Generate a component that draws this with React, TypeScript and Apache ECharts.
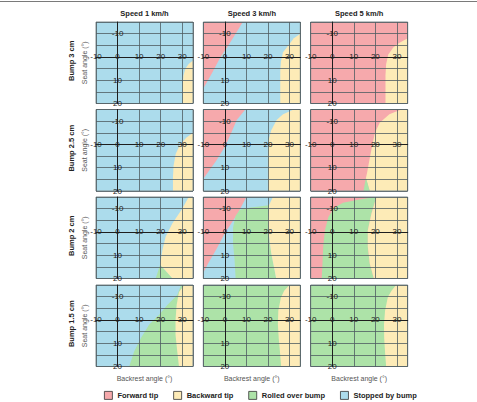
import React, { useEffect, useRef } from "react";
import * as echarts from "echarts";

// ---- Labels ----
const speeds = ["Speed 1 km/h", "Speed 3 km/h", "Speed 5 km/h"];
const bumps = ["Bump 3 cm", "Bump 2.5 cm", "Bump 2 cm", "Bump 1.5 cm"];
const classes = ["Forward tip", "Backward tip", "Rolled over bump", "Stopped by bump"];
const xTickLabels = [-10, 0, 10, 20, 30];
const yTickLabels = [-10, 10, 20];
const xName = "Backrest angle (°)";
const yName = "Seat angle (°)";
const xRange = [-10, 35];
const yRange = [-15, 20];

// ---- Region boundaries (backrest angle, seat angle) ----
const fullPanel = [[-10, -15], [35, -15], [35, 20], [-10, 20]];

const r1c1Backward = [[35, 1.5], [33, 3], [31.5, 5], [30.6, 8], [30.2, 12], [30.2, 20], [35, 20]];
const r1c2Forward = [[-10, -15], [8.3, -15], [5, -10], [1, -4], [-2, 0], [-6, 7], [-10, 13.6]];
const r1c2Backward = [[35, -10], [32, -8], [29.5, -5], [27, -2], [26, 2], [25.7, 6], [25.7, 20], [35, 20]];
const r1c3Backward = [[35, -8], [31, -6], [28.3, -4], [26, -1], [25, 3], [24.7, 8], [24.7, 20], [35, 20]];

const r2c1Backward = [[35, -5], [32, -3], [29, 0], [27, 4], [26, 9], [25.7, 14], [25.7, 20], [35, 20]];
const r2c2Forward = [[-10, -15], [9.5, -15], [5.5, -10.5], [3, -5], [0, 1], [-4, 7], [-10, 14.7]];
const r2c2Backward = [[32, -15], [35, -15], [35, 20], [20, 20], [20, 2], [20.3, -2], [21.5, -6], [24, -10.5], [27, -13]];
const r2c3Backward = [[32, -15], [35, -15], [35, 20], [17.4, 20], [15.6, 14.5], [16.2, 12], [17.3, 6.4], [18.5, 0.7], [19.8, -5], [22, -9.3], [26.5, -13]];
const r2c3Rolled = [[15.6, 14.3], [17.4, 20], [14.5, 20]];

const r3c1Backward = [[33, -15], [35, -15], [35, 20], [25.4, 20], [22, 16.5], [19.7, 14.2], [20.8, 7.9], [22.3, 2.1], [25.4, -3.6], [30, -10]];
const r3c1Rolled = [[19.7, 14.2], [22, 16.5], [25.4, 20], [17.7, 20]];
const r3c2Forward = [[-10, -15], [10, -15], [6, -8], [2.5, -3], [0, 0.5], [-4, 7.5], [-7.7, 13.5], [-10, 17.5]];
const r3c2Rolled = [[7, -9.5], [12, -10.5], [20.5, -11.5], [20, -5], [20.5, 2], [21.5, 9], [23, 16], [23.8, 20], [5, 20], [4.5, 12], [3.8, 5], [3.8, -2], [5, -7]];
const r3c2Backward = [[22.3, -15], [35, -15], [35, 20], [23.8, 20], [23, 16], [21.5, 9], [20.5, 2], [20, -5], [20.5, -11.5], [21.5, -13.5]];
const r3c3Rolled = [[19.5, -15], [12, -13.8], [5, -12.5], [1, -10.5], [-1.8, -6.4], [-3.4, -0.7], [-4.2, 6.4], [-4.6, 15], [-4.9, 20], [19.3, 20], [17.4, 13.6], [16.5, 6.4], [16.5, -0.7], [18.2, -7.9], [20.5, -15]];
const r3c3Backward = [[20.5, -15], [35, -15], [35, 20], [19.3, 20], [17.4, 13.6], [16.5, 6.4], [16.5, -0.7], [18.2, -7.9]];

const r4c1Rolled = [[29.5, -15], [35, -15], [35, 20], [5.4, 20], [7.7, 13.6], [10.8, 7.9], [14.6, 2.1], [19.2, -2.1], [23.1, -6.4], [27.7, -10.7]];
const r4c1Backward = [[31, -15], [35, -15], [35, 20], [28.5, 20], [27.7, 13.6], [26.9, 6.4], [26.9, 0], [27.4, -6.4], [28.5, -12]];
const r4c2Backward = [[30, -15], [35, -15], [35, 20], [26.1, 20], [25.6, 14], [25, 8], [24.6, 2], [24.8, -4], [26, -9.5], [27.5, -12.5]];
const r4c3Backward = [[29.6, -15], [35, -15], [35, 20], [25, 20], [24.5, 14], [24.1, 8], [24, 2], [24.5, -4], [25.8, -9.9], [27.5, -12.5]];

const panels: [string, number[][]][][] = [
  [["Stopped by bump", fullPanel], ["Backward tip", r1c1Backward]],
  [["Stopped by bump", fullPanel], ["Forward tip", r1c2Forward], ["Backward tip", r1c2Backward]],
  [["Forward tip", fullPanel], ["Backward tip", r1c3Backward]],
  [["Stopped by bump", fullPanel], ["Backward tip", r2c1Backward]],
  [["Stopped by bump", fullPanel], ["Forward tip", r2c2Forward], ["Backward tip", r2c2Backward]],
  [["Forward tip", fullPanel], ["Backward tip", r2c3Backward], ["Rolled over bump", r2c3Rolled]],
  [["Stopped by bump", fullPanel], ["Backward tip", r3c1Backward], ["Rolled over bump", r3c1Rolled]],
  [["Stopped by bump", fullPanel], ["Forward tip", r3c2Forward], ["Rolled over bump", r3c2Rolled], ["Backward tip", r3c2Backward]],
  [["Forward tip", fullPanel], ["Rolled over bump", r3c3Rolled], ["Backward tip", r3c3Backward]],
  [["Stopped by bump", fullPanel], ["Rolled over bump", r4c1Rolled], ["Backward tip", r4c1Backward]],
  [["Rolled over bump", fullPanel], ["Backward tip", r4c2Backward]],
  [["Rolled over bump", fullPanel], ["Backward tip", r4c3Backward]],
];

const COLORS: Record<string, string> = {
  "Forward tip": "#f6a9ac",
  "Backward tip": "#fdebb7",
  "Rolled over bump": "#ade3a8",
  "Stopped by bump": "#acdcec",
};

const FONT = "Liberation Sans";
const colLeft = [96, 203.3, 310.7];
const rowTop = [22, 109.5, 197, 285];
const PW = 97;
const PH = 81.5;
// distance of the zero lines from the panel's left / bottom edge
const X_ZERO_OFF = (PW * (0 - xRange[0])) / (xRange[1] - xRange[0]);
const Y_ZERO_OFF = (PH * (yRange[1] - 0)) / (yRange[1] - yRange[0]);

export default function App() {
  const ref = useRef<HTMLDivElement>(null);
  useEffect(() => {
    if (!ref.current) return;
    const chart = echarts.init(ref.current, null, { renderer: "svg" });
    const grids: any[] = [];
    const xAxes: any[] = [];
    const yAxes: any[] = [];
    const series: any[] = [];
    const graphics: any[] = [];

    panels.forEach((regions, i) => {
      const r = Math.floor(i / 3);
      const c = i % 3;
      grids.push({
        left: colLeft[c], top: rowTop[r], width: PW, height: PH,
        show: true, borderColor: "#7f8c8f", borderWidth: 1,
        backgroundColor: "transparent", z: 4,
      });
      xAxes.push({
        type: "value", gridIndex: i, min: xRange[0], max: xRange[1], interval: 10, z: 4,
        position: "bottom", offset: -Y_ZERO_OFF,
        axisLine: { show: true, onZero: false, lineStyle: { color: "#1e1e1e", width: 1 } },
        axisTick: { show: false },
        splitLine: { show: true, lineStyle: { color: "#4f5d62", width: 0.8 } },
        axisLabel: {
          show: true, margin: 0, verticalAlign: "middle", showMinLabel: true, showMaxLabel: false,
          fontSize: 8, color: "#222", fontFamily: FONT,
          formatter: (v: number) => (xTickLabels.includes(v) ? String(v) : ""),
        },
      });
      yAxes.push({
        type: "value", gridIndex: i, min: yRange[0], max: yRange[1], interval: 5, inverse: true, z: 4,
        position: "left", offset: -X_ZERO_OFF,
        axisLine: { show: true, onZero: false, lineStyle: { color: "#1e1e1e", width: 1 } },
        axisTick: { show: false },
        splitLine: { show: true, lineStyle: { color: "#4f5d62", width: 0.8 } },
        axisLabel: {
          show: true, margin: 0, align: "center", verticalAlign: "middle", showMinLabel: true, showMaxLabel: true,
          fontSize: 8, color: "#222", fontFamily: FONT,
          formatter: (v: number) => (yTickLabels.includes(v) ? String(v) : ""),
        },
      });
      regions.forEach(([cls, poly]) => {
        series.push({
          type: "custom", name: cls, xAxisIndex: i, yAxisIndex: i,
          data: poly, encode: { x: 0, y: 1 }, silent: true,
          itemStyle: { color: COLORS[cls] },
          renderItem: (params: any, api: any) => {
            if (params.dataIndex !== 0) return null;
            const pts = poly.map((p) => api.coord(p));
            return { type: "polygon", shape: { points: pts }, style: { fill: COLORS[cls] } };
          },
        });
      });
    });

    speeds.forEach((s, c) => {
      graphics.push({
        type: "text", x: colLeft[c] + PW / 2, y: 13,
        style: { text: s, fontSize: 7.5, fontWeight: "bold", fontFamily: FONT, fill: "#222", align: "center", verticalAlign: "middle" },
      });
      graphics.push({
        type: "text", x: colLeft[c] + PW / 2, y: 378,
        style: { text: xName, fontSize: 7, fontFamily: FONT, fill: "#555", align: "center", verticalAlign: "middle" },
      });
    });
    bumps.forEach((b, r) => {
      const cy = rowTop[r] + PH / 2;
      graphics.push({
        type: "text", x: 71, y: cy - 2, rotation: Math.PI / 2,
        style: { text: b, fontSize: 7.5, fontWeight: "bold", fontFamily: FONT, fill: "#222", align: "center", verticalAlign: "middle" },
      });
      graphics.push({
        type: "text", x: 84.5, y: cy, rotation: Math.PI / 2,
        style: { text: yName, fontSize: 7, fontFamily: FONT, fill: "#555", align: "center", verticalAlign: "middle" },
      });
    });
    graphics.push({
      type: "line", shape: { x1: 0, y1: 1.5, x2: 477, y2: 1.5 },
      style: { stroke: "#7a7a7a", lineWidth: 1 },
    });

    chart.setOption({
      animation: false,
      backgroundColor: "#ffffff",
      grid: grids,
      xAxis: xAxes,
      yAxis: yAxes,
      series,
      graphic: graphics,
      legend: {
        data: classes, top: 391, left: 104, padding: 0,
        itemWidth: 8, itemHeight: 8, itemGap: 15, icon: "rect",
        selectedMode: false,
        itemStyle: { borderColor: "#333", borderWidth: 0.8 },
        textStyle: { fontSize: 7.5, fontWeight: "bold", color: "#222", fontFamily: FONT },
      },
    });
    return () => chart.dispose();
  }, []);
  return <div ref={ref} style={{ position: "absolute", left: 0, top: 0, width: 477, height: 402 }} />;
}
